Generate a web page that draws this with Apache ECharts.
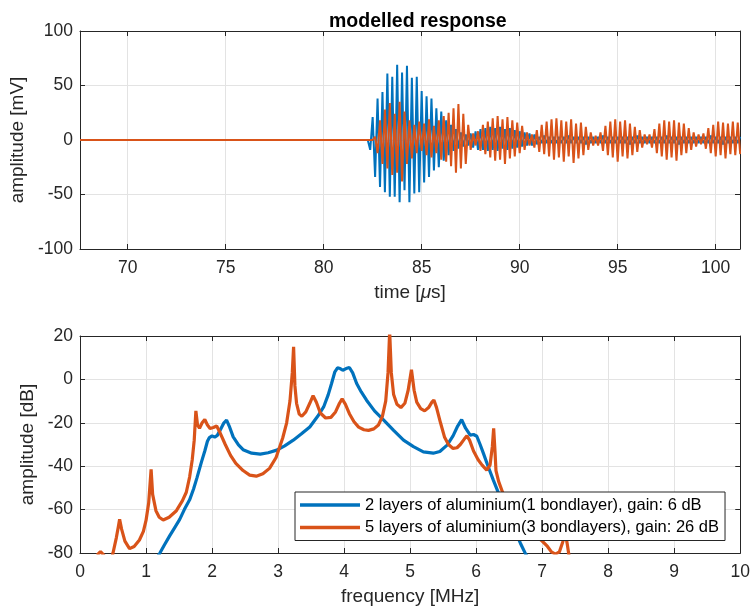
<!DOCTYPE html>
<html><head><meta charset="utf-8">
<script src="https://cdn.jsdelivr.net/npm/echarts@6/dist/echarts.min.js"></script>
<style>html,body{margin:0;padding:0;background:#fff}#c{width:753px;height:611px}</style>
</head><body><div id="c"></div>
<script>
// ---------- time-domain data (mV), sampled every timeStep µs from timeStart ----------
const signalStartTime = 67.57;     // signal is zero from the start of the record
const timeStart = 82.0;
const timeStep = 0.125;
const timeTicks = [70, 75, 80, 85, 90, 95, 100];

const blueSignal = [
  0, 0, 0, -9, 21, -34, 38, -43,          // 82
  44, -48, 61, -52, 58, -52, 69, -57,     // 83
  62, -46, 68, -57, 57, -49, 58, -48,     // 84
  45, -39, 40, -34, 38, -28, 29, -25,     // 85
  26, -19, 18, -14, 14, -10, 10, -8,      // 86
  7, -6, 5, -5, 6, -7, 8, -9,             // 87
  10, -9, 11, -10, 12, -9, 11, -10,       // 88
  12, -8, 10, -9, 11, -8, 9, -7,          // 89
  8, -6, 7, -5, 6, -5, 5, -4,             // 90
  3, -3, 4, -3, 3, -3, 3, -3,             // 91
  3, -3, 3, -3, 4, -3, 3, -3,             // 92
  3, -3, 3, -4, 3, -3, 3, -3,             // 93
  3, -3, 4, -3, 3, -3, 3, -3,             // 94
  3, -3, 3, -3, 3, -4, 3, -3,             // 95
  4, -3, 3, -3, 3, -3, 3, -3,             // 96
  3, -3, 3, -3, 4, -3, 3, -3,             // 97
  3, -4, 3, -3, 3, -3, 3, -3,             // 98
  3, -3, 3, -3, 3, -3, 4, -3,             // 99
  3, -3, 3, -4, 3, -3, 3, -3,             // 100
  3, -3, 3                                // 101
];

const orangeSignal = [
  0, 0, 0, 0, 0, 3, -12, 18,              // 82
  -22, 28, -26, 34, -32, 24, -30, 35,     // 83
  -38, 26, -22, 18, -17, 14, -12, 17,     // 84
  -10, 15, -14, 19, -16, 13, -12, 18,     // 85
  -18, 22, -20, 25, -24, 29, -30, 33,     // 86
  -26, 24, -22, 14, -9, 6, -5, 8,         // 87
  -10, 14, -13, 17, -16, 20, -19, 22,     // 88
  -18, 19, -22, 21, -17, 18, -15, 16,     // 89
  -12, 13, -9, 7, -5, 5, -7, 9,           // 90
  -11, 14, -13, 17, -15, 19, -18, 20,     // 91
  -16, 18, -20, 17, -15, 19, -21, 15,     // 92
  -17, 16, -14, 12, -9, 7, -5, 4,         // 93
  -5, 7, -10, 13, -14, 17, -16, 19,       // 94
  -20, 17, -15, 18, -17, 15, -14, 12,     // 95
  -11, 9, -7, 5, -4, 5, -7, 10,           // 96
  -12, 15, -15, 18, -18, 17, -16, 18,     // 97
  -19, 16, -14, 15, -12, 11, -9, 7,       // 98
  -6, 5, -4, 6, -8, 11, -12, 14,          // 99
  -15, 17, -14, 16, -17, 15, -13, 17,     // 100
  -14, 16, -13                            // 101
];

// ---------- frequency-domain data (dB) ----------
const blueFreq = [1.15,1.21,1.28,1.36,1.43,1.51,1.58,1.66,1.72,1.77,1.84,1.89,1.93,1.96,2.0,2.04,2.08,2.13,2.18,2.22,2.26,2.32,2.4,2.47,2.6,2.73,2.85,2.98,3.1,3.23,3.35,3.48,3.6,3.69,3.76,3.81,3.86,3.9,3.94,3.98,4.03,4.08,4.13,4.19,4.26,4.34,4.46,4.6,4.75,4.9,5.05,5.2,5.35,5.45,5.56,5.65,5.72,5.78,5.84,5.91,5.96,6.01,6.06,6.11,6.18,6.26,6.36,6.47,6.57,6.67,6.75,6.8];
const blueDb = [-83,-80,-76.2,-72,-68.5,-64.5,-60,-55.5,-50.5,-45.5,-38,-33,-28.5,-26.8,-26,-26.6,-25.8,-23,-20,-18.8,-21.5,-26.5,-30.2,-32.4,-34,-34.4,-33.8,-32.6,-30.6,-28,-25.2,-21.9,-17,-12.7,-7,-1.9,3.5,5.3,5,4.2,5,5.5,3,-1.9,-5.8,-9.6,-14.5,-18.8,-23.5,-28,-31,-33.4,-34,-33.2,-30.3,-26,-21.5,-18.5,-22.5,-25.7,-25.4,-26.2,-30,-34.1,-40,-46.4,-54,-61.7,-68.5,-75.5,-80.5,-83];

const orangeFreq = [0.26,0.31,0.36,0.42,0.5,0.55,0.58,0.6,0.63,0.68,0.75,0.82,0.9,0.96,1.0,1.04,1.077,1.1,1.15,1.2,1.26,1.35,1.46,1.55,1.61,1.66,1.7,1.73,1.755,1.78,1.81,1.85,1.89,1.93,1.97,2.02,2.07,2.12,2.2,2.28,2.36,2.47,2.57,2.67,2.77,2.87,2.97,3.07,3.13,3.18,3.215,3.235,3.255,3.28,3.32,3.36,3.42,3.48,3.53,3.58,3.64,3.72,3.8,3.87,3.93,3.97,4.02,4.08,4.15,4.22,4.3,4.37,4.45,4.52,4.58,4.63,4.665,4.69,4.715,4.75,4.8,4.86,4.92,4.97,5.02,5.06,5.1,5.16,5.22,5.28,5.33,5.36,5.4,5.46,5.52,5.58,5.65,5.71,5.76,5.82,5.86,5.9,5.96,6.03,6.09,6.16,6.21,6.245,6.265,6.285,6.3,6.34,6.4,6.5,6.6,6.7,6.8,6.9,7.0,7.08,7.14,7.2,7.26,7.31,7.35,7.38,7.41];
const orangeDb = [-81,-79.3,-81,-90,-80,-73,-68,-64.5,-69,-74.5,-78,-77,-74,-70,-65,-57,-41.5,-53,-60.5,-63.5,-64.8,-63.5,-60.5,-56,-52,-45,-37,-28,-14.5,-21,-22.5,-20,-18.5,-21,-22.6,-22.2,-21.5,-24.5,-30,-35,-38.7,-42,-44.1,-44.6,-43.5,-41,-36,-27,-20,-10,3,15,-3,-11,-16,-17,-15,-11,-7.5,-10.5,-15.5,-17.8,-17.5,-15,-11,-9,-11.5,-15.8,-19.5,-22,-23.2,-23.5,-22.8,-21,-17,-10,3,22,3,-7,-11.5,-13,-11,-5,4.5,-5,-10.5,-13.5,-14.5,-13,-10.5,-9.5,-13,-20,-26.5,-30,-31.8,-31.5,-30,-27.5,-26,-28,-33,-37,-39.5,-41.8,-39.5,-31,-22.6,-33,-42,-47,-52,-58,-63,-67,-70,-72,-74.5,-77,-79.5,-80.5,-79.5,-75,-70.5,-76,-82];

const seriesNames = ['2 layers of aluminium(1 bondlayer), gain: 6 dB', '5 layers of aluminium(3 bondlayers), gain: 26 dB'];

// ---------- build ----------
function timeData(vals) {
  const d = [[signalStartTime, 0]];
  vals.forEach((v, i) => d.push([+(timeStart + i * timeStep).toFixed(4), v]));
  return d;
}
function zip(a, b) { return a.map((x, i) => [x, b[i]]); }

const FONT = 'Liberation Sans, Arial, Helvetica, sans-serif';
const AX = '#262626';
const GRIDC = '#e3e3e3';
const BLUE = '#0072BD', ORANGE = '#D95319';

function boxAxis(base) {
  return Object.assign({
    type: 'value',
    axisLine: { show: true, onZero: false, lineStyle: { color: AX, width: 1 } },
    axisTick: { show: true, inside: true, length: 5, lineStyle: { color: AX } },
    axisLabel: { show: false },
    splitLine: { show: false }
  }, base);
}

const chart = echarts.init(document.getElementById('c'), null, { renderer: 'canvas' });
chart.setOption({
  animation: false,
  backgroundColor: '#fff',
  title: {
    text: 'modelled response',
    left: 324, top: 7,
    textStyle: { fontFamily: FONT, fontSize: 19.5, fontWeight: 'bold', color: '#000' }
  },
  grid: [
    { left: 80, top: 31, width: 660, height: 218, containLabel: false },
    { left: 80, top: 336, width: 662, height: 217, containLabel: false }
  ],
  legend: {
    data: seriesNames,
    orient: 'vertical',
    left: 295, top: 492,
    padding: [3, 6, 3, 5],
    itemGap: 2.5,
    itemWidth: 60, itemHeight: 3.5,
    icon: 'rect',
    backgroundColor: '#fff',
    borderColor: AX, borderWidth: 1,
    textStyle: { fontFamily: FONT, fontSize: 16.5, color: '#000', lineHeight: 20 },
    z: 10
  },
  xAxis: [
    {
      type: 'value', gridIndex: 0, min: 67.57, max: 101.24,
      axisLine: { show: true, onZero: false, lineStyle: { color: AX } },
      axisTick: { show: true, inside: true, length: 5, customValues: timeTicks, lineStyle: { color: AX } },
      axisLabel: { customValues: timeTicks, margin: 10, fontFamily: FONT, fontSize: 17.5, color: AX },
      splitLine: { show: true, lineStyle: { color: GRIDC, width: 1 } },
      name: 'time [{it|μ}s]', nameLocation: 'middle', nameGap: 34,
      nameTextStyle: { fontFamily: FONT, fontSize: 19, color: AX,
        rich: { it: { fontFamily: FONT, fontSize: 19, fontStyle: 'italic', color: AX } } }
    },
    boxAxis({ gridIndex: 0, position: 'top', min: 67.57, max: 101.24,
      axisTick: { show: true, inside: true, length: 5, customValues: timeTicks, lineStyle: { color: AX } } }),
    {
      type: 'value', gridIndex: 1, min: 0, max: 10, interval: 1,
      axisLine: { show: true, onZero: false, lineStyle: { color: AX } },
      axisTick: { show: true, inside: true, length: 5, lineStyle: { color: AX } },
      axisLabel: { margin: 10, fontFamily: FONT, fontSize: 17.5, color: AX },
      splitLine: { show: true, lineStyle: { color: GRIDC, width: 1 } },
      name: 'frequency [MHz]', nameLocation: 'middle', nameGap: 34,
      nameTextStyle: { fontFamily: FONT, fontSize: 19, color: AX }
    },
    boxAxis({ gridIndex: 1, position: 'top', min: 0, max: 10, interval: 1 })
  ],
  yAxis: [
    {
      type: 'value', gridIndex: 0, min: -100, max: 100, interval: 50,
      axisLine: { show: true, onZero: false, lineStyle: { color: AX } },
      axisTick: { show: true, inside: true, length: 5, lineStyle: { color: AX } },
      axisLabel: { margin: 7, fontFamily: FONT, fontSize: 17.5, color: AX },
      splitLine: { show: true, lineStyle: { color: GRIDC, width: 1 } },
      name: 'amplitude [mV]', nameLocation: 'middle', nameGap: 42,
      nameTextStyle: { fontFamily: FONT, fontSize: 19, color: AX }
    },
    boxAxis({ gridIndex: 0, position: 'right', min: -100, max: 100, interval: 50 }),
    {
      type: 'value', gridIndex: 1, min: -80, max: 20, interval: 20,
      axisLine: { show: true, onZero: false, lineStyle: { color: AX } },
      axisTick: { show: true, inside: true, length: 5, lineStyle: { color: AX } },
      axisLabel: { margin: 7, fontFamily: FONT, fontSize: 17.5, color: AX },
      splitLine: { show: true, lineStyle: { color: GRIDC, width: 1 } },
      name: 'amplitude [dB]', nameLocation: 'middle', nameGap: 30,
      nameTextStyle: { fontFamily: FONT, fontSize: 19, color: AX }
    },
    boxAxis({ gridIndex: 1, position: 'right', min: -80, max: 20, interval: 20 })
  ],
  series: [
    { name: seriesNames[0], type: 'line', xAxisIndex: 0, yAxisIndex: 0, data: timeData(blueSignal),
      showSymbol: false, symbol: 'none', clip: true, lineStyle: { color: BLUE, width: 2 }, itemStyle: { color: BLUE } },
    { name: seriesNames[1], type: 'line', xAxisIndex: 0, yAxisIndex: 0, data: timeData(orangeSignal),
      showSymbol: false, symbol: 'none', clip: true, lineStyle: { color: ORANGE, width: 2 }, itemStyle: { color: ORANGE } },
    { name: seriesNames[0], type: 'line', xAxisIndex: 2, yAxisIndex: 2, data: zip(blueFreq, blueDb),
      showSymbol: false, symbol: 'none', clip: true, lineStyle: { color: BLUE, width: 3.2 }, itemStyle: { color: BLUE } },
    { name: seriesNames[1], type: 'line', xAxisIndex: 2, yAxisIndex: 2, data: zip(orangeFreq, orangeDb),
      showSymbol: false, symbol: 'none', clip: true, lineStyle: { color: ORANGE, width: 3.2 }, itemStyle: { color: ORANGE } }
  ]
});
</script>
</body></html>
